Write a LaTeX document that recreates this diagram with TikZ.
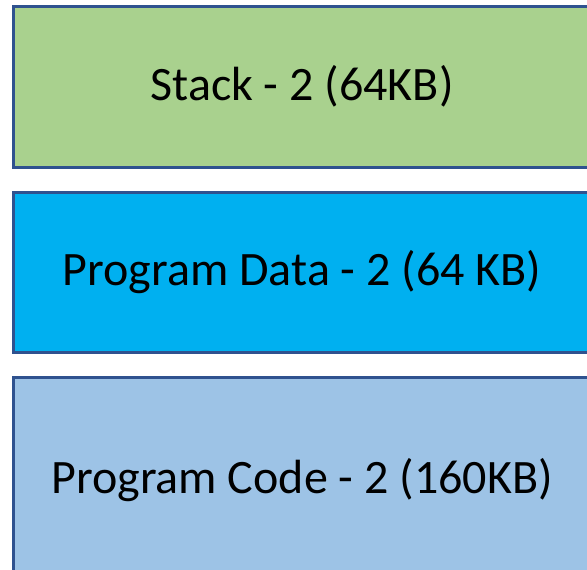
\documentclass[tikz,border=0pt]{standalone}
\usepackage{fontspec}
\setmainfont{Carlito}
\usetikzlibrary{positioning}
\definecolor{stackgreen}{HTML}{A9D18E}
\definecolor{datablue}{HTML}{00B0F0}
\definecolor{codeblue}{HTML}{9DC3E6}
\definecolor{segline}{HTML}{2F528F}
\begin{document}
\begin{tikzpicture}[x=1pt,y=-1pt,
  seg/.style={draw=segline, line width=3pt, outer sep=0pt, inner sep=0pt,
    minimum width=577pt, font=\fontsize{48}{58}\selectfont}]
\clip (0,0) rectangle (587,570);
\node[seg, fill=stackgreen, minimum height=160.5pt, anchor=north west] (stack) at (13.5,6.5) {Stack - 2 (64KB)};
\node[seg, fill=datablue, minimum height=160pt, below=25.5pt of stack] (data) {Program Data - 2 (64 KB)};
\node[seg, fill=codeblue, minimum height=205pt, below=25pt of data] (code) {Program Code - 2 (160KB)};
\end{tikzpicture}
\end{document}
